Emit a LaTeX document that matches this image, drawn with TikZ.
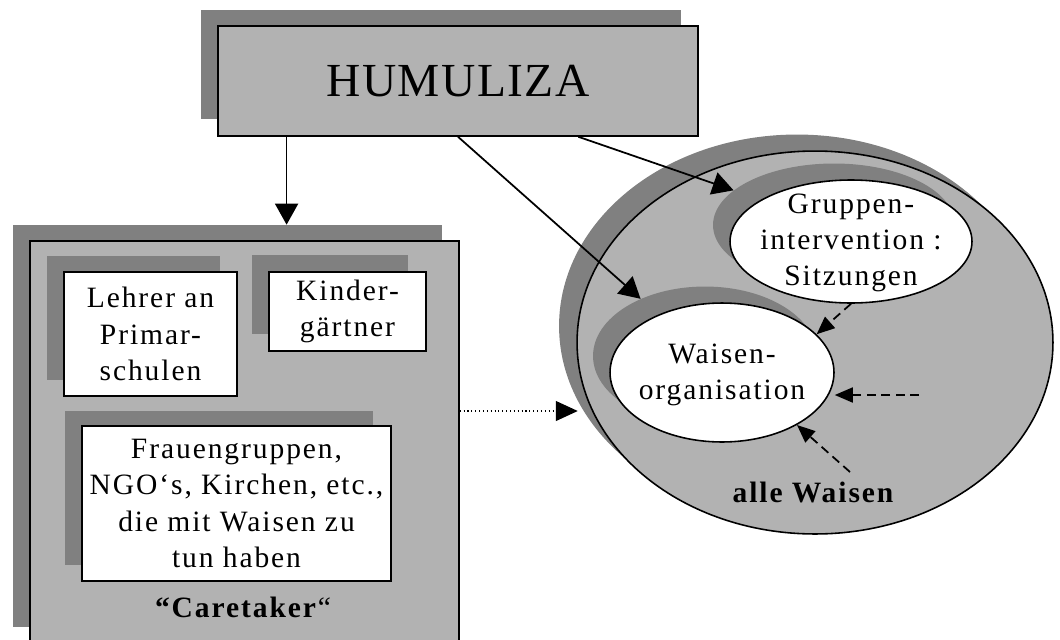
\documentclass[tikz,border=0pt]{standalone}
\usepackage{fontspec}
\setmainfont{Liberation Serif}[LetterSpace=6.5]
\usetikzlibrary{arrows.meta,shapes.geometric,calc}

\newcommand{\bodyfont}{\fontsize{16.8}{20.7}\selectfont}

\tikzset{
  shade/.style={fill=black!50, draw=none, inner sep=0pt},
  plate/.style={fill=black!30, draw, line width=0.9pt, inner sep=0pt},
  card/.style={fill=white, draw, line width=0.9pt, inner sep=0pt},
  oval/.style={ellipse},
  arr/.style={->, >={Triangle[length=0.42cm,width=0.46cm]}, line width=1pt},
  dasharr/.style={->, >={Triangle[length=0.36cm,width=0.3cm]}, dash pattern=on 0.18cm off 0.11cm, line width=1pt},
  dotarr/.style={->, >={Triangle[length=0.44cm,width=0.4cm]}, dash pattern=on 0.6pt off 1.6pt, line width=0.7pt},
}

\begin{document}
\begin{tikzpicture}[x=0.02cm, y=-0.02cm, font=\bodyfont, align=center]
\useasboundingbox (0,0) rectangle (1060,639);

% HUMULIZA
\node[shade, minimum width=9.6cm, minimum height=2.18cm] (humsh) at (441,64.5) {};
\node[plate, minimum width=9.6cm, minimum height=2.2cm, font=\fontsize{27}{30}\selectfont\addfontfeature{LetterSpace=3}] (hum) at (458,81) {HUMULIZA};

% Caretaker
\node[shade, minimum width=8.58cm, minimum height=8.04cm] (caresh) at (227.5,426) {};
\node[plate, minimum width=8.58cm, minimum height=8.04cm] (care) at (244.5,442) {};
\node[shade, minimum width=3.46cm, minimum height=2.48cm] (lehsh) at (133.5,318) {};
\node[card, minimum width=3.46cm, minimum height=2.48cm] (leh) at (150.5,334) {Lehrer an\\Primar-\\schulen};
\node[shade, minimum width=3.14cm, minimum height=1.58cm] (kinsh) at (330,294.5) {};
\node[card, minimum width=3.14cm, minimum height=1.58cm] (kin) at (347.5,311.5) {Kinder-\\gärtner};
\node[shade, minimum width=6.18cm, minimum height=3.1cm] (frash) at (219,488) {};
\node[card, minimum width=6.18cm, minimum height=3.1cm] (fra) at (236.5,503.5) {Frauengruppen,\\NGO‘s, Kirchen, etc.,\\die mit Waisen zu\\tun haben};
\node (caretxt) at (243,607) {\textbf{“Caretaker}“};

% Waisen
\node[shade, oval, minimum width=9.52cm, minimum height=7.66cm] (orphsh) at (797,326) {};
\node[plate, oval, minimum width=9.52cm, minimum height=7.66cm] (orph) at (815,342.5) {};
\node[shade, oval, minimum width=4.84cm, minimum height=2.46cm] (grush) at (834,225) {};
\node[card, oval, minimum width=4.84cm, minimum height=2.46cm] (gru) at (851,241.5) {};
\node (grutxt) at (851,243) {Gruppen-\\intervention :\\Sitzungen};
\node[shade, oval, minimum width=4.48cm, minimum height=2.78cm] (waish) at (705,356) {};
\node[card, oval, minimum width=4.48cm, minimum height=2.78cm] (wai) at (722,372.5) {};
\node (waitxt) at (722,375) {Waisen-\\organisation};
\node[font=\bodyfont\bfseries] (alle) at (813,492) {alle Waisen};

% Pfeile
\coordinate (h1) at ($(hum.south west)!0.144!(hum.south east)$);
\coordinate (h2) at ($(hum.south west)!0.75!(hum.south east)$);
\draw[arr] (h1) -- (h1 |- caresh.north);
\draw[arr] (hum.south) -- (waish);
\draw[arr] (h2) -- (grush);

\coordinate (d1) at ([yshift=0.62cm]care.east);
\draw[dotarr] (d1) -- ++(118,0);

\coordinate (e1) at (919,395);
\coordinate (e2) at (850,472);
\draw[dasharr] (gru.south) -- (wai.22);
\draw[dasharr] (e1) -- (e1 -| wai.east);
\draw[dasharr] (e2) -- (wai.-35);

\end{tikzpicture}
\end{document}
